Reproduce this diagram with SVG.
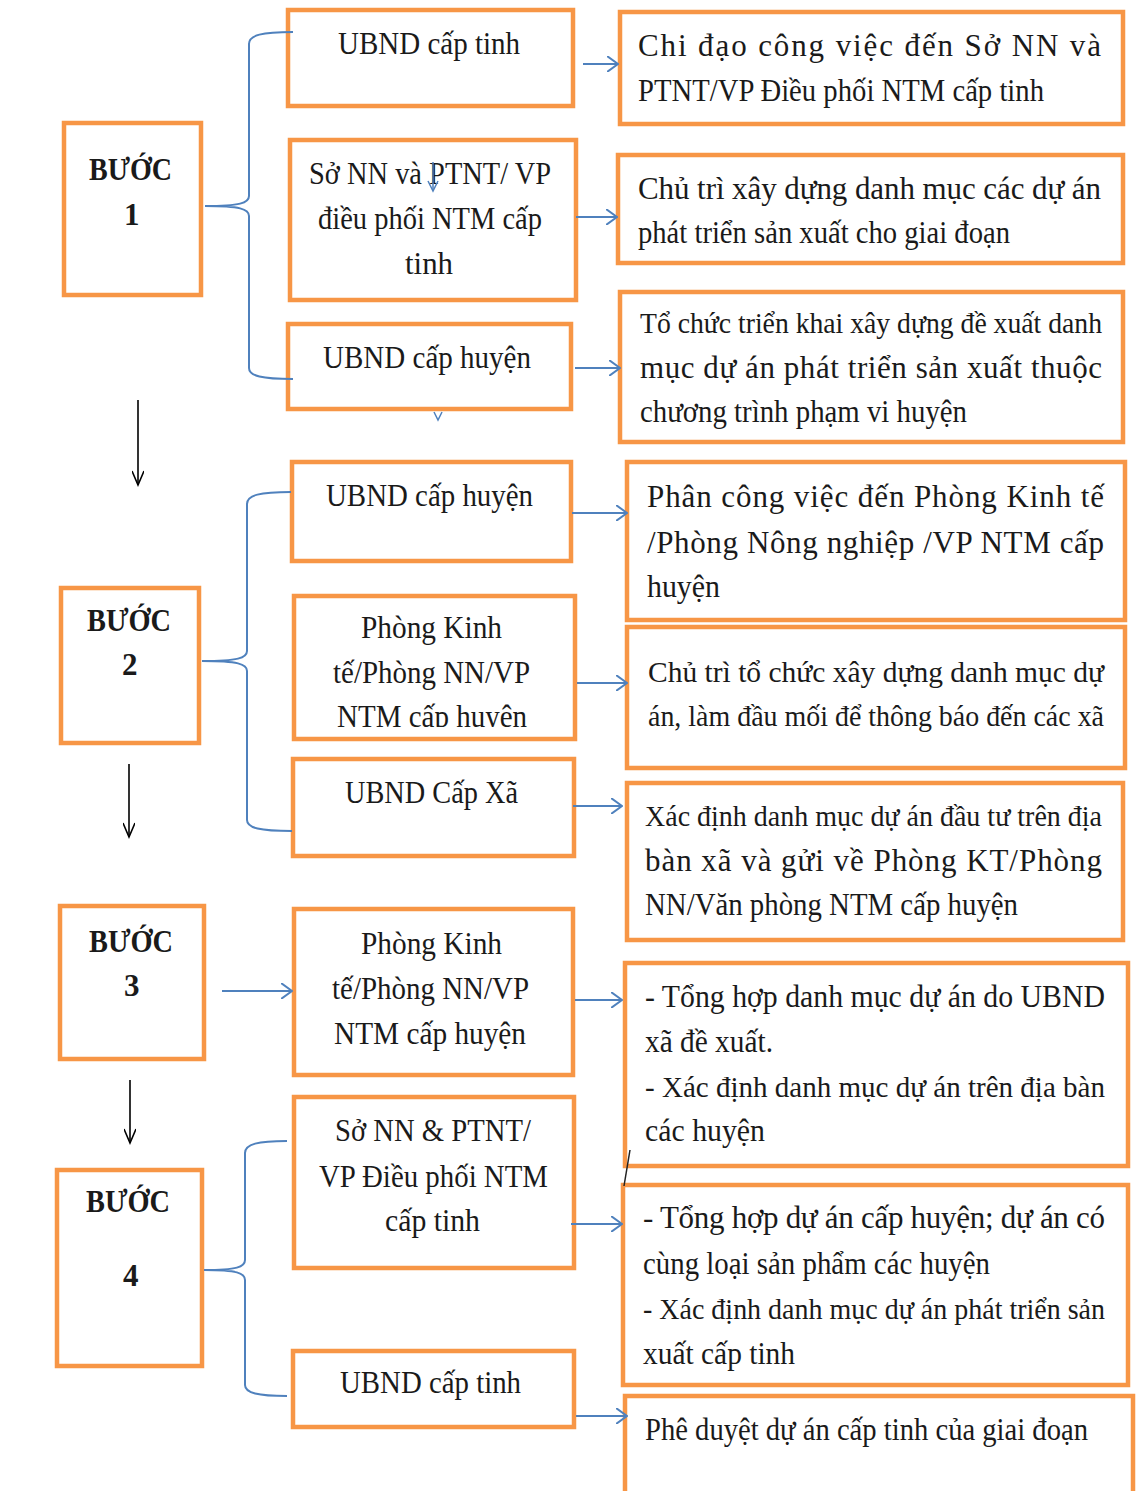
<svg xmlns="http://www.w3.org/2000/svg" width="1144" height="1491" viewBox="0 0 1144 1491">
<style>
.box{fill:#fff;stroke:#F79646;stroke-width:4.5}
.t{font-family:"Liberation Serif","Times New Roman",serif;font-size:31px;fill:#1a1a1a}
.s{font-size:29.5px}
.b{font-weight:bold}
.con{fill:none;stroke:#4F81BD;stroke-width:2}
.blk{fill:none;stroke:#000;stroke-width:1.6}
</style>
<defs>
<marker id="ab" viewBox="0 0 12 16" refX="11" refY="8" markerWidth="12" markerHeight="16" markerUnits="userSpaceOnUse" orient="auto"><path d="M0,0 L11,8 L0,16" fill="none" stroke="#4F81BD" stroke-width="2"/></marker>
<marker id="ak" viewBox="0 0 12 20" refX="6" refY="18" markerWidth="12" markerHeight="20" markerUnits="userSpaceOnUse" orient="0"><path d="M0,4 L6,18 L12,4" fill="none" stroke="#000" stroke-width="1.6"/></marker>
<clipPath id="clip5"><rect x="294" y="596" width="281" height="131"/></clipPath>
</defs>
<rect width="1144" height="1491" fill="#fff"/>

<g id="step1"><rect class="box" x="64" y="123" width="137" height="172"/>
<text class="t b" x="89" y="180" textLength="83" lengthAdjust="spacingAndGlyphs">BƯỚC</text>
<text class="t b" x="124" y="225">1</text></g>
<g id="step2"><rect class="box" x="61" y="588" width="138" height="155"/>
<text class="t b" x="87" y="631" textLength="84" lengthAdjust="spacingAndGlyphs">BƯỚC</text>
<text class="t b" x="122" y="675">2</text></g>
<g id="step3"><rect class="box" x="60" y="906" width="144" height="153"/>
<text class="t b" x="89" y="952" textLength="84" lengthAdjust="spacingAndGlyphs">BƯỚC</text>
<text class="t b" x="124" y="996">3</text></g>
<g id="step4"><rect class="box" x="57" y="1170" width="145" height="196"/>
<text class="t b" x="86" y="1212" textLength="84" lengthAdjust="spacingAndGlyphs">BƯỚC</text>
<text class="t b" x="123" y="1286">4</text></g>

<g id="m1"><rect class="box" x="288" y="10" width="285" height="96"/>
<text class="t" x="338" y="54" textLength="182" lengthAdjust="spacingAndGlyphs">UBND cấp tinh</text></g>
<g id="m2"><rect class="box" x="290" y="140" width="286" height="160"/>
<text class="t" x="309" y="184" textLength="242" lengthAdjust="spacingAndGlyphs">Sở NN và PTNT/ VP</text>
<text class="t" x="318" y="229" textLength="224" lengthAdjust="spacingAndGlyphs">điều phối NTM cấp</text>
<text class="t" x="405" y="274" textLength="48" lengthAdjust="spacingAndGlyphs">tinh</text></g>
<g id="m3"><rect class="box" x="288" y="324" width="283" height="85"/>
<text class="t" x="323" y="368" textLength="208" lengthAdjust="spacingAndGlyphs">UBND cấp huyện</text></g>
<g id="m4"><rect class="box" x="292" y="462" width="279" height="99"/>
<text class="t" x="326" y="506" textLength="207" lengthAdjust="spacingAndGlyphs">UBND cấp huyện</text></g>
<g id="m5"><rect class="box" x="294" y="596" width="281" height="143"/>
<text class="t" x="361" y="638" textLength="141" lengthAdjust="spacingAndGlyphs">Phòng Kinh</text>
<text class="t" x="333" y="683" textLength="197" lengthAdjust="spacingAndGlyphs">tế/Phòng NN/VP</text>
<text class="t" x="337" y="727" textLength="190" lengthAdjust="spacingAndGlyphs" clip-path="url(#clip5)">NTM cấp huyện</text></g>
<g id="m6"><rect class="box" x="293" y="759" width="281" height="97"/>
<text class="t" x="345" y="803" textLength="173" lengthAdjust="spacingAndGlyphs">UBND Cấp Xã</text></g>
<g id="m7"><rect class="box" x="294" y="909" width="279" height="166"/>
<text class="t" x="361" y="954" textLength="141" lengthAdjust="spacingAndGlyphs">Phòng Kinh</text>
<text class="t" x="332" y="999" textLength="197" lengthAdjust="spacingAndGlyphs">tế/Phòng NN/VP</text>
<text class="t" x="334" y="1044" textLength="192" lengthAdjust="spacingAndGlyphs">NTM cấp huyện</text></g>
<g id="m8"><rect class="box" x="294" y="1097" width="280" height="171"/>
<text class="t" x="335" y="1141" textLength="196" lengthAdjust="spacingAndGlyphs">Sở NN &amp; PTNT/</text>
<text class="t" x="319" y="1187" textLength="229" lengthAdjust="spacingAndGlyphs">VP Điều phối NTM</text>
<text class="t" x="385" y="1231" textLength="95" lengthAdjust="spacingAndGlyphs">cấp tinh</text></g>
<g id="m9"><rect class="box" x="293" y="1351" width="281" height="76"/>
<text class="t" x="340" y="1393" textLength="181" lengthAdjust="spacingAndGlyphs">UBND cấp tinh</text></g>

<g id="r1"><rect class="box" x="620" y="12" width="503" height="112"/>
<text class="t" x="638" y="56" textLength="463" lengthAdjust="spacing">Chi đạo công việc đến Sở NN và</text>
<text class="t" x="638" y="101" textLength="406" lengthAdjust="spacingAndGlyphs">PTNT/VP Điều phối NTM cấp tinh</text></g>
<g id="r2"><rect class="box" x="618" y="155" width="505" height="108"/>
<text class="t" x="638" y="199" textLength="463" lengthAdjust="spacing">Chủ trì xây dựng danh mục các dự án</text>
<text class="t" x="638" y="243" textLength="372" lengthAdjust="spacingAndGlyphs">phát triển sản xuất cho giai đoạn</text></g>
<g id="r3"><rect class="box" x="620" y="292" width="503" height="150"/>
<text class="t s" x="640" y="333" textLength="462" lengthAdjust="spacingAndGlyphs">Tổ chức triển khai xây dựng đề xuất danh</text>
<text class="t" x="640" y="378" textLength="462" lengthAdjust="spacing">mục dự án phát triển sản xuất thuộc</text>
<text class="t" x="640" y="422" textLength="327" lengthAdjust="spacingAndGlyphs">chương trình phạm vi huyện</text></g>
<g id="r4"><rect class="box" x="627" y="462" width="498" height="158"/>
<text class="t" x="647" y="507" textLength="457" lengthAdjust="spacing">Phân công việc đến  Phòng Kinh tế</text>
<text class="t" x="647" y="553" textLength="457" lengthAdjust="spacing">/Phòng Nông nghiệp /VP NTM cấp</text>
<text class="t" x="647" y="597" textLength="73" lengthAdjust="spacingAndGlyphs">huyện</text></g>
<g id="r5"><rect class="box" x="627" y="627" width="498" height="141"/>
<text class="t s" x="648" y="682" textLength="456" lengthAdjust="spacingAndGlyphs">Chủ trì tổ chức xây dựng danh mục dự</text>
<text class="t s" x="648" y="726" textLength="456" lengthAdjust="spacingAndGlyphs">án, làm đầu mối để thông báo đến các xã</text></g>
<g id="r6"><rect class="box" x="627" y="783" width="496" height="157"/>
<text class="t s" x="645" y="826" textLength="457" lengthAdjust="spacingAndGlyphs">Xác định danh mục dự án đầu tư trên địa</text>
<text class="t" x="645" y="871" textLength="457" lengthAdjust="spacing">bàn xã và gửi về Phòng KT/Phòng</text>
<text class="t" x="645" y="915" textLength="373" lengthAdjust="spacingAndGlyphs">NN/Văn phòng NTM cấp huyện</text></g>
<g id="r7"><rect class="box" x="625" y="963" width="503" height="203"/>
<text class="t" x="645" y="1007" textLength="460" lengthAdjust="spacingAndGlyphs">- Tổng hợp danh mục dự án do UBND</text>
<text class="t" x="645" y="1052" textLength="128" lengthAdjust="spacingAndGlyphs">xã đề xuất.</text>
<text class="t s" x="645" y="1097" textLength="460" lengthAdjust="spacingAndGlyphs">- Xác định danh mục dự án trên địa bàn</text>
<text class="t" x="645" y="1141" textLength="120" lengthAdjust="spacingAndGlyphs">các huyện</text></g>
<g id="r8"><rect class="box" x="623" y="1185" width="505" height="200"/>
<text class="t" x="643" y="1228" textLength="462" lengthAdjust="spacing">- Tổng hợp dự án cấp huyện; dự án có</text>
<text class="t" x="643" y="1274" textLength="347" lengthAdjust="spacingAndGlyphs">cùng loại sản phẩm các huyện</text>
<text class="t s" x="643" y="1319" textLength="462" lengthAdjust="spacingAndGlyphs">- Xác định danh mục dự án phát triển sản</text>
<text class="t" x="643" y="1364" textLength="152" lengthAdjust="spacingAndGlyphs">xuất cấp tinh</text></g>
<g id="r9"><rect class="box" x="625" y="1396" width="508" height="110"/>
<text class="t" x="645" y="1440" textLength="443" lengthAdjust="spacingAndGlyphs">Phê duyệt dự án cấp tinh của giai đoạn</text></g>

<g id="connectors">
<path class="con" d="M 293 32 C 262 32 249 35 249 44 L 249 196 C 249 203 240 206 205 206 C 240 206 249 209 249 216 L 249 368 C 249 376 262 379 293 379"/>
<path class="con" d="M 291 492 C 260 492 247 495 247 504 L 247 651 C 247 658 238 661 202 661 C 238 661 247 664 247 671 L 247 820 C 247 828 260 831 292 831"/>
<path class="con" d="M 287 1141 C 258 1141 245 1144 245 1153 L 245 1260 C 245 1267 237 1270 204 1270 C 237 1270 245 1273 245 1280 L 245 1385 C 245 1393 258 1396 287 1396"/>
<line class="con" x1="583" y1="64" x2="618" y2="64" marker-end="url(#ab)"/>
<line class="con" x1="576" y1="217" x2="617" y2="217" marker-end="url(#ab)"/>
<line class="con" x1="575" y1="368" x2="620" y2="368" marker-end="url(#ab)"/>
<line class="con" x1="572" y1="513" x2="627" y2="513" marker-end="url(#ab)"/>
<line class="con" x1="577" y1="683" x2="627" y2="683" marker-end="url(#ab)"/>
<line class="con" x1="573" y1="806" x2="622" y2="806" marker-end="url(#ab)"/>
<line class="con" x1="222" y1="991" x2="292" y2="991" marker-end="url(#ab)"/>
<line class="con" x1="575" y1="1000" x2="622" y2="1000" marker-end="url(#ab)"/>
<line class="con" x1="571" y1="1224" x2="622" y2="1224" marker-end="url(#ab)"/>
<line class="con" x1="576" y1="1416" x2="627" y2="1416" marker-end="url(#ab)"/>
<line class="blk" x1="138" y1="400" x2="138" y2="485" marker-end="url(#ak)"/>
<line class="blk" x1="129" y1="764" x2="129" y2="837" marker-end="url(#ak)"/>
<line class="blk" x1="130" y1="1080" x2="130" y2="1143" marker-end="url(#ak)"/>
<line x1="433" y1="162" x2="433" y2="190" stroke="#4F81BD" stroke-width="1.5"/>
<path d="M428,181 L433,191 L438,181" fill="none" stroke="#4F81BD" stroke-width="1.5"/>
<path d="M434,412 L438,420 L442,412" fill="none" stroke="#4F81BD" stroke-width="1.5"/>
<line x1="630" y1="1150" x2="624" y2="1186" stroke="#222" stroke-width="1.5"/>
</g>
</svg>
